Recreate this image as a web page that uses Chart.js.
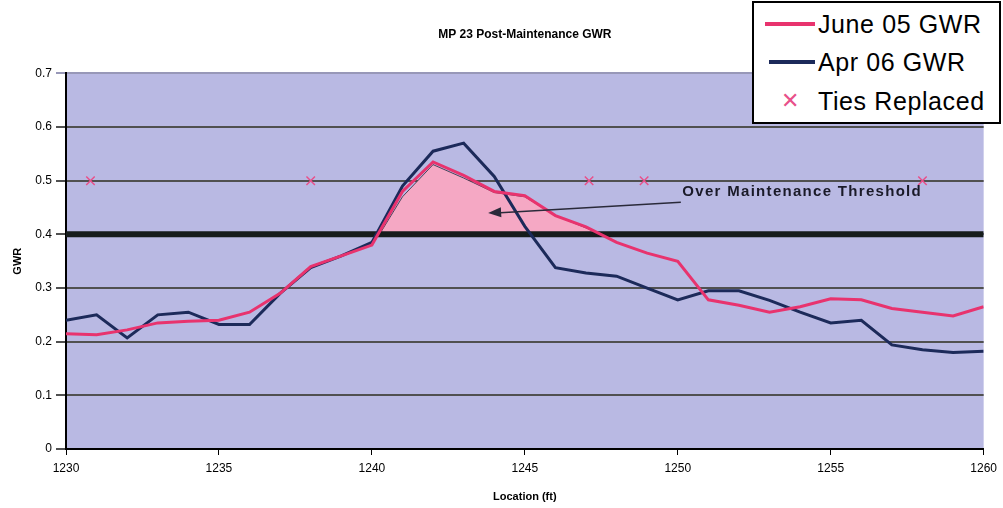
<!DOCTYPE html>
<html>
<head>
<meta charset="utf-8">
<script src="https://cdn.jsdelivr.net/npm/chart.js@4"></script>
<style>
  html, body { margin: 0; padding: 0; background: #fff; }
  #wrap { position: relative; width: 1003px; height: 508px; }
  #legend {
    position: absolute; left: 752px; top: 1px; width: 245px; height: 119px;
    border: 2px solid #000; background: #fff;
    font-family: "Liberation Sans", Arial, sans-serif; font-size: 25px; letter-spacing: 0.6px; color: #000;
  }
  .row { position: absolute; left: 0; height: 30px; display: flex; align-items: center; white-space: nowrap; }
  .swatch { width: 50px; height: 4px; margin-left: 11px; margin-right: 3px; }
  .cross { width: 50px; margin-left: 11px; margin-right: 3px; text-align: center; color: #e8508a; font-size: 22px; }
</style>
</head>
<body>
<div id="wrap">
  <canvas id="gwrChart" width="1003" height="508"></canvas>
  <div id="legend">
    <div class="row" style="top:6px"><div class="swatch" style="background:#e8336e"></div>June 05 GWR</div>
    <div class="row" style="top:44px"><div class="swatch" style="background:#1c2a5a;width:46px;margin-left:15px"></div>Apr 06 GWR</div>
    <div class="row" style="top:83px"><div class="cross">&#x2715;</div>Ties Replaced</div>
  </div>
</div>
<script>
// data
const locations = [1230, 1231, 1232, 1233, 1234, 1235, 1236, 1237, 1238, 1239, 1240,
  1241, 1242, 1243, 1244, 1245, 1246, 1247, 1248, 1249, 1250,
  1251, 1252, 1253, 1254, 1255, 1256, 1257, 1258, 1259, 1260];
const june05 = [0.215, 0.213, 0.222, 0.235, 0.238, 0.24, 0.255, 0.29, 0.34, 0.36, 0.38,
  0.48, 0.535, 0.51, 0.48, 0.472, 0.435, 0.414, 0.385, 0.365, 0.35,
  0.278, 0.268, 0.255, 0.265, 0.28, 0.278, 0.262, 0.255, 0.248, 0.265];
const apr06 = [0.24, 0.25, 0.207, 0.25, 0.255, 0.232, 0.232, 0.29, 0.338, 0.36, 0.385,
  0.49, 0.555, 0.57, 0.508, 0.415, 0.338, 0.328, 0.322, 0.3, 0.278,
  0.295, 0.295, 0.277, 0.255, 0.235, 0.24, 0.194, 0.185, 0.18, 0.182];
const tieLocations = [1230.8, 1238, 1247.1, 1248.9, 1258];
const tieGwr = [0.5, 0.5, 0.5, 0.5, 0.5];
const thresholdLoc = [1230, 1260];
const thresholdGwr = [0.4, 0.4];
// shaded part of june 05 over the threshold
const overLoc = [1240.25, 1241, 1242, 1243, 1244, 1245, 1246, 1247, 1247.5];
const overGwr = [0.4, 0.47, 0.53, 0.505, 0.478, 0.47, 0.435, 0.412, 0.4];
const yTicks = [0, 0.1, 0.2, 0.3, 0.4, 0.5, 0.6, 0.7];

const pts = (xs, ys) => xs.map((x, i) => ({ x: x, y: ys[i] }));
const font = "'Liberation Sans', Arial, sans-serif";

const plotBackground = {
  id: "plotBackground",
  beforeDraw(chart) {
    const { ctx, chartArea: a } = chart;
    ctx.save();
    ctx.fillStyle = "#b9b9e3";
    ctx.fillRect(a.left, a.top, a.right - a.left, a.bottom - a.top);
    ctx.restore();
  },
};

const thresholdNote = {
  id: "thresholdNote",
  afterDatasetsDraw(chart) {
    const { ctx, scales: { x, y } } = chart;
    const tx = x.getPixelForValue(1250.1), ty = y.getPixelForValue(0.46);
    const hx = x.getPixelForValue(1243.8), hy = y.getPixelForValue(0.44);
    ctx.save();
    ctx.strokeStyle = "#2a2a3a";
    ctx.fillStyle = "#2a2a3a";
    ctx.lineWidth = 1.5;
    ctx.beginPath();
    ctx.moveTo(tx, ty);
    ctx.lineTo(hx + 8, hy);
    ctx.stroke();
    const ang = Math.atan2(hy - ty, hx - tx);
    ctx.beginPath();
    ctx.moveTo(hx, hy);
    ctx.lineTo(hx - 13 * Math.cos(ang) + 5 * Math.sin(ang), hy - 13 * Math.sin(ang) - 5 * Math.cos(ang));
    ctx.lineTo(hx - 13 * Math.cos(ang) - 5 * Math.sin(ang), hy - 13 * Math.sin(ang) + 5 * Math.cos(ang));
    ctx.closePath();
    ctx.fill();
    ctx.font = "bold 15px " + font;
    if ("letterSpacing" in ctx) ctx.letterSpacing = "1.3px";
    ctx.textBaseline = "middle";
    ctx.fillStyle = "#1a1a28";
    ctx.fillText("Over Maintenance Threshold", x.getPixelForValue(1250.15), y.getPixelForValue(0.48));
    ctx.restore();
  },
};

new Chart("gwrChart", {
  type: "line",
  data: {
    datasets: [
      {
        label: "Ties Replaced",
        data: pts(tieLocations, tieGwr),
        showLine: false,
        pointStyle: "crossRot",
        pointRadius: 6,
        borderColor: "#e8508a",
        borderWidth: 1.5,
        order: 0,
      },
      {
        label: "June 05 GWR",
        data: pts(locations, june05),
        borderColor: "#e8336e",
        borderWidth: 3,
        pointRadius: 0,
        order: 1,
      },
      {
        label: "Apr 06 GWR",
        data: pts(locations, apr06),
        borderColor: "#1c2a5a",
        borderWidth: 3,
        pointRadius: 0,
        order: 2,
      },
      {
        label: "threshold",
        data: pts(thresholdLoc, thresholdGwr),
        borderColor: "#161c1c",
        borderWidth: 6,
        pointRadius: 0,
        order: 3,
      },
      {
        label: "over",
        data: pts(overLoc, overGwr),
        borderColor: "rgba(40,40,60,0.8)",
        borderWidth: 1,
        backgroundColor: "#f5a8c4",
        fill: { value: 0.4 },
        pointRadius: 0,
        order: 4,
      },
    ],
  },
  options: {
    responsive: false,
    animation: false,
    layout: { padding: { left: 0, right: 13, top: 6, bottom: 0 } },
    plugins: {
      legend: { display: false },
      tooltip: { enabled: false },
      title: {
        display: true,
        text: "MP 23 Post-Maintenance GWR",
        fullSize: false,
        color: "#000",
        font: { family: font, size: 12, weight: "bold" },
        padding: { top: 21, bottom: 32 },
      },
    },
    scales: {
      x: {
        type: "linear",
        min: 1230,
        max: 1260,
        afterFit: (s) => { s.height = 59; },
        ticks: {
          stepSize: 5,
          color: "#000",
          padding: 6,
          font: { family: font, size: 12 },
          callback: (v) => String(v),
        },
        grid: { drawOnChartArea: false, drawTicks: true, tickLength: 6, color: "#000" },
        border: { display: true, color: "#000", width: 2 },
        title: {
          display: true,
          text: "Location (ft)",
          color: "#000",
          font: { family: font, size: 11, weight: "bold" },
          padding: { top: 0, bottom: 4 },
        },
      },
      y: {
        min: 0,
        max: 0.7,
        afterFit: (s) => { s.width = 66; },
        afterBuildTicks: (s) => { s.ticks = yTicks.map((v) => ({ value: v })); },
        ticks: {
          color: "#000",
          padding: 4,
          font: { family: font, size: 12 },
          callback: (v) => String(Math.round(v * 10) / 10),
        },
        grid: {
          tickLength: 10,
          lineWidth: 2,
          color: (c) => (c.tick && c.tick.value === 0.7 ? "#9898b8" : "#505050"),
        },
        border: { display: true, color: "#000", width: 2 },
        title: {
          display: true,
          text: "GWR",
          color: "#000",
          font: { family: font, size: 11, weight: "bold" },
          padding: { top: 11, bottom: 0 },
        },
      },
    },
  },
  plugins: [plotBackground, thresholdNote],
});
</script>
</body>
</html>
